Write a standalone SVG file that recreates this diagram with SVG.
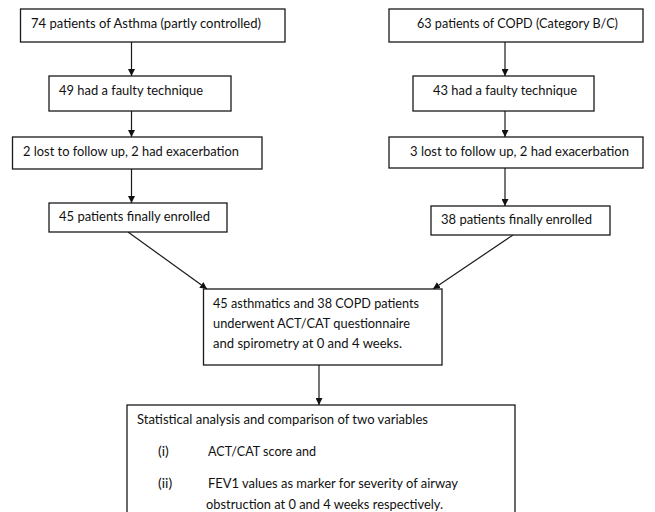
<svg xmlns="http://www.w3.org/2000/svg" width="655" height="512" viewBox="0 0 655 512">
<defs>
<style>
.box{fill:#fff;stroke:#1a1a1a;stroke-width:1.3}
.t{font-family:Lato,"Liberation Sans",sans-serif;font-size:14px;fill:#111}
.c{stroke:#1a1a1a;stroke-width:1.2;fill:none;marker-end:url(#ah)}
</style>
<marker id="ah" viewBox="0 0 10 10" refX="10" refY="5" markerWidth="7" markerHeight="7" markerUnits="userSpaceOnUse" orient="auto">
<path d="M0,0 L10,5 L0,10 z" fill="#111"/>
</marker>
</defs>
<rect width="655" height="512" fill="#fff"/>
<g id="connectors">
<line class="c" x1="131.5" y1="42" x2="131.5" y2="76"/>
<line class="c" x1="131.5" y1="111" x2="131.5" y2="137"/>
<line class="c" x1="131.5" y1="169" x2="131.5" y2="203"/>
<line class="c" x1="128" y1="232" x2="207" y2="289"/>
<line class="c" x1="505" y1="42" x2="505" y2="76"/>
<line class="c" x1="505" y1="111" x2="505" y2="137"/>
<line class="c" x1="505" y1="168" x2="505" y2="206"/>
<line class="c" x1="513" y1="235" x2="433" y2="289"/>
<line class="c" x1="319" y1="365" x2="319" y2="405"/>
</g>
<g id="asthma">
<rect class="box" x="20.5" y="9" width="264.5" height="33"/>
<text class="t" x="31" y="28" textLength="230" lengthAdjust="spacingAndGlyphs">74 patients of Asthma (partly controlled)</text>
</g>
<g id="asthma-faulty">
<rect class="box" x="49" y="76" width="182" height="35"/>
<text class="t" x="59" y="95" textLength="144" lengthAdjust="spacingAndGlyphs">49 had a faulty technique</text>
</g>
<g id="asthma-lost">
<rect class="box" x="12.5" y="137" width="249.5" height="32"/>
<text class="t" x="23" y="156" textLength="216" lengthAdjust="spacingAndGlyphs">2 lost to follow up, 2 had exacerbation</text>
</g>
<g id="asthma-enrolled">
<rect class="box" x="49" y="203" width="178" height="29"/>
<text class="t" x="59" y="221" textLength="151" lengthAdjust="spacingAndGlyphs">45 patients finally enrolled</text>
</g>
<g id="copd">
<rect class="box" x="389" y="9" width="254" height="33"/>
<text class="t" x="417" y="28" textLength="201" lengthAdjust="spacingAndGlyphs">63 patients of COPD (Category B/C)</text>
</g>
<g id="copd-faulty">
<rect class="box" x="413" y="76" width="181" height="35"/>
<text class="t" x="433" y="95" textLength="144" lengthAdjust="spacingAndGlyphs">43 had a faulty technique</text>
</g>
<g id="copd-lost">
<rect class="box" x="389" y="137" width="254" height="31"/>
<text class="t" x="410" y="156" textLength="219" lengthAdjust="spacingAndGlyphs">3 lost to follow up, 2 had exacerbation</text>
</g>
<g id="copd-enrolled">
<rect class="box" x="431" y="206" width="179" height="29"/>
<text class="t" x="441" y="224" textLength="151" lengthAdjust="spacingAndGlyphs">38 patients finally enrolled</text>
</g>
<g id="combined">
<rect class="box" x="203.5" y="289" width="238.5" height="76"/>
<text class="t" x="213" y="308" textLength="206" lengthAdjust="spacingAndGlyphs">45 asthmatics and 38 COPD patients</text>
<text class="t" x="213" y="328" textLength="197" lengthAdjust="spacingAndGlyphs">underwent ACT/CAT questionnaire</text>
<text class="t" x="213" y="348" textLength="189" lengthAdjust="spacingAndGlyphs">and spirometry at 0 and 4 weeks.</text>
</g>
<g id="analysis">
<rect class="box" x="127" y="405" width="388" height="120"/>
<text class="t" x="137" y="424" textLength="291" lengthAdjust="spacingAndGlyphs">Statistical analysis and comparison of two variables</text>
<text class="t" x="158" y="456">(i)</text>
<text class="t" x="208" y="456" textLength="108" lengthAdjust="spacingAndGlyphs">ACT/CAT score and</text>
<text class="t" x="158" y="488">(ii)</text>
<text class="t" x="208" y="488" textLength="250" lengthAdjust="spacingAndGlyphs">FEV1 values as marker for severity of airway</text>
<text class="t" x="206" y="509" textLength="237" lengthAdjust="spacingAndGlyphs">obstruction at 0 and 4 weeks respectively.</text>
</g>
</svg>
